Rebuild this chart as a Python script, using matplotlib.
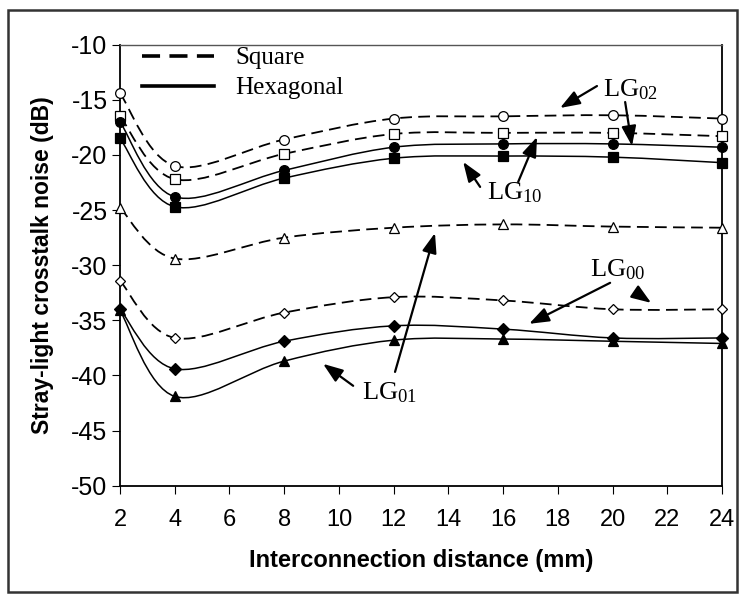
import matplotlib
matplotlib.use('Agg')
import matplotlib.pyplot as plt
import matplotlib.patches as mpatches
from matplotlib.path import Path
from matplotlib.lines import Line2D

distances = [2, 4, 8, 12, 16, 20, 24]

sqLG02 = [-14.4, -21.0, -18.6, -16.7, -16.5, -16.4, -16.7]
sqLG10 = [-16.5, -22.2, -19.9, -18.1, -18.0, -18.0, -18.3]
sqLG01 = [-24.8, -29.4, -27.5, -26.6, -26.3, -26.5, -26.6]
sqLG00 = [-31.4, -36.6, -34.3, -32.9, -33.2, -34.0, -34.0]

hexLG02 = [-17.0, -23.8, -21.4, -19.3, -19.0, -19.0, -19.3]
hexLG10 = [-18.5, -24.7, -22.1, -20.3, -20.1, -20.2, -20.7]
hexLG00 = [-34.0, -39.4, -36.9, -35.5, -35.8, -36.6, -36.6]
hexLG01 = [-34.1, -41.9, -38.7, -36.8, -36.7, -36.9, -37.1]

xTicks = [2, 4, 6, 8, 10, 12, 14, 16, 18, 20, 22, 24]
yTicks = [-50, -45, -40, -35, -30, -25, -20, -15, -10]

plt.rcParams['font.family'] = ['Liberation Sans', 'DejaVu Sans']
plt.rcParams['axes.unicode_minus'] = False
plt.rcParams['mathtext.fontset'] = 'custom'
plt.rcParams['mathtext.rm'] = 'Liberation Serif'
plt.rcParams['mathtext.it'] = 'Liberation Serif:italic'
plt.rcParams['mathtext.bf'] = 'Liberation Serif:bold'


def smoothPath(xs, ys):
    # excel-like smoothed line: catmull-rom segments as cubic bezier curves
    verts = [(xs[0], ys[0])]
    codes = [Path.MOVETO]
    n = len(xs)
    for i in range(n - 1):
        x0, y0 = (xs[i - 1], ys[i - 1]) if i > 0 else (xs[i], ys[i])
        x1, y1 = xs[i], ys[i]
        x2, y2 = xs[i + 1], ys[i + 1]
        x3, y3 = (xs[i + 2], ys[i + 2]) if i + 2 < n else (x2, y2)
        verts.append((x1 + (x2 - x0) / 6.0, y1 + (y2 - y0) / 6.0))
        verts.append((x2 - (x3 - x1) / 6.0, y2 - (y3 - y1) / 6.0))
        verts.append((x2, y2))
        codes += [Path.CURVE4, Path.CURVE4, Path.CURVE4]
    return Path(verts, codes)


fig = plt.figure(figsize=(7.4, 5.96), dpi=100)
ax = fig.add_axes([0.1622, 0.1851, 0.8135, 0.7399])

# outer frame around the whole picture
fig.patches.append(mpatches.Rectangle((8 / 740, 4 / 596), 729 / 740, 582 / 596,
                                      transform=fig.transFigure, fill=False,
                                      edgecolor='#333333', linewidth=1.8))

dashStyle = (0, (6.5, 3.5))
series = [
    (sqLG02, 'o', 'white', dashStyle, 7.0),
    (sqLG10, 's', 'white', dashStyle, 6.5),
    (sqLG01, '^', 'white', dashStyle, 7.5),
    (sqLG00, 'D', 'white', dashStyle, 5.5),
    (hexLG02, 'o', 'black', '-', 7.0),
    (hexLG10, 's', 'black', '-', 6.5),
    (hexLG00, 'D', 'black', '-', 6.0),
    (hexLG01, '^', 'black', '-', 7.5),
]

for vals, mk, face, ls, ms in series:
    lw = 1.3 if ls != '-' else 1.1
    ax.add_patch(mpatches.PathPatch(smoothPath(distances, vals), fill=False,
                                    edgecolor='black', linewidth=lw, linestyle=ls,
                                    zorder=2))
    ax.plot(distances, vals, linestyle='none', marker=mk, markersize=ms,
            markerfacecolor=face, markeredgecolor='black', markeredgewidth=0.9,
            clip_on=False, zorder=3)

ax.set_xlim(2, 24)
ax.set_ylim(-50, -10)
ax.set_xticks(xTicks)
ax.set_yticks(yTicks)
ax.tick_params(axis='x', direction='out', length=6, width=0.8, labelsize=17, pad=11)
ax.tick_params(axis='y', direction='out', length=6, width=0.8, labelsize=18, pad=3)

for side in ['left', 'bottom', 'right']:
    ax.spines[side].set_linewidth(1.3)
ax.spines['top'].set_linewidth(1.0)
ax.spines['top'].set_color('#555555')

ax.set_xlabel('Interconnection distance (mm)', fontsize=17, fontweight='bold', labelpad=13)
ax.set_ylabel('Stray-light crosstalk noise (dB)', fontsize=16.5, fontweight='bold', labelpad=12)

sq = Line2D([], [], color='black', linewidth=2.6, linestyle=(0, (5, 2.6)), label='Square')
hx = Line2D([], [], color='black', linewidth=2.6, linestyle='-', label='Hexagonal')
ax.legend(handles=[sq, hx], loc='upper left', bbox_to_anchor=(0.036, 0.995),
          frameon=False, prop={'family': 'Liberation Serif', 'size': 18},
          handlelength=2.9, handletextpad=0.85, labelspacing=0.3,
          borderpad=0, borderaxespad=0)

arrowKw = dict(arrowstyle='-|>,head_length=0.6,head_width=0.22', color='black',
               lw=1.6, shrinkA=0, shrinkB=0, mutation_scale=20)
labelFont = dict(family='Liberation Serif', size=19, va='center', ha='left')

ax.text(19.65, -14.1, r'LG$_{\mathrm{02}}$', **labelFont)
ax.annotate('', xy=(18.08, -15.74), xytext=(19.43, -13.75), arrowprops=arrowKw)
ax.annotate('', xy=(20.71, -19.18), xytext=(20.46, -15.2), arrowprops=arrowKw)

ax.text(15.41, -23.45, r'LG$_{\mathrm{10}}$', **labelFont)
ax.annotate('', xy=(14.54, -20.63), xytext=(15.16, -22.9), arrowprops=arrowKw)
ax.annotate('', xy=(17.24, -18.37), xytext=(16.55, -22.45), arrowprops=arrowKw)

ax.text(10.85, -41.6, r'LG$_{\mathrm{01}}$', **labelFont)
ax.annotate('', xy=(13.51, -27.08), xytext=(12.05, -39.68), arrowprops=arrowKw)
ax.annotate('', xy=(9.42, -38.95), xytext=(10.52, -40.94), arrowprops=arrowKw)

ax.text(19.18, -30.43, r'LG$_{\mathrm{00}}$', **labelFont)
ax.annotate('', xy=(16.95, -35.32), xytext=(19.91, -31.6), arrowprops=arrowKw)
ax.annotate('', xy=(21.41, -33.42), xytext=(20.82, -32.42), arrowprops=arrowKw)

fig.savefig('out.png', dpi=100)
